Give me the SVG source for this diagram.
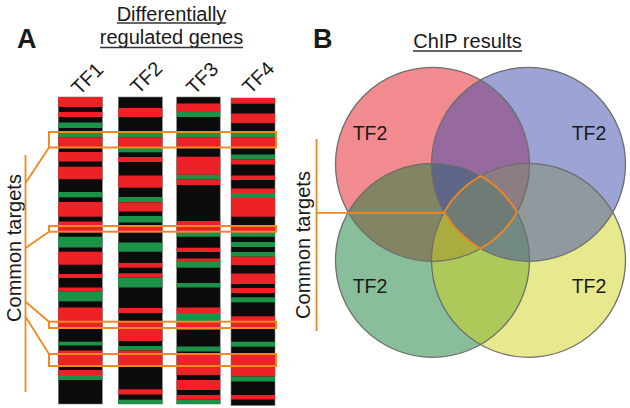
<svg xmlns="http://www.w3.org/2000/svg" width="630" height="408" viewBox="0 0 630 408">
<style>
text{font-family:"Liberation Sans",Arial,sans-serif;fill:#1a1a1a}
.t{font-size:20px}
.lbl{font-size:19.5px}
.cl{font-size:20px}
.big{font-size:27px;font-weight:bold}
.r{fill:#ED2227}
.g{fill:#1B9246}
.k{fill:#0B0B0C;stroke:#7a7a7a;stroke-width:0.6}
.box{fill:none;stroke:#F0891E;stroke-width:2}
.ol{fill:none;stroke:#F0891E;stroke-width:1.8}
.ul{stroke:#333;stroke-width:1.4}
.c{fill-opacity:0.5}
.co{fill:none;stroke:#6e6e6e;stroke-width:1.3}
</style>

<g id="panelA-title">
<text class="big" x="17" y="47.5">A</text>
<text class="t" x="171.5" y="20.5" text-anchor="middle">Differentially</text>
<line class="ul" x1="117" y1="23" x2="226" y2="23"/>
<text class="t" x="171.5" y="44" text-anchor="middle">regulated genes</text>
<line class="ul" x1="100" y1="47.5" x2="243" y2="47.5"/>
</g>

<g id="col-labels">
<text class="cl" text-anchor="middle" transform="translate(92,83.5) rotate(-45)">TF1</text>
<text class="cl" text-anchor="middle" transform="translate(151,82.5) rotate(-45)">TF2</text>
<text class="cl" text-anchor="middle" transform="translate(207,83) rotate(-45)">TF3</text>
<text class="cl" text-anchor="middle" transform="translate(263,82.5) rotate(-45)">TF4</text>
</g>

<g id="TF1">
<rect class="k" x="58.3" y="97" width="44" height="307"/>
<rect class="r" x="58.3" y="97" width="44" height="10"/>
<rect class="r" x="58.3" y="112" width="44" height="5"/>
<rect class="g" x="58.3" y="122.5" width="44" height="5.5"/>
<rect class="g" x="58.3" y="132.7" width="44" height="4.6"/>
<rect class="r" x="58.3" y="137.3" width="44" height="10"/>
<rect class="r" x="58.3" y="152" width="44" height="9.5"/>
<rect class="r" x="58.3" y="166.7" width="44" height="12.5"/>
<rect class="g" x="58.3" y="192" width="44" height="5.3"/>
<rect class="r" x="58.3" y="202" width="44" height="14.7"/>
<rect class="r" x="58.3" y="221.5" width="44" height="10.2"/>
<rect class="g" x="58.3" y="236.7" width="44" height="10.8"/>
<rect class="r" x="58.3" y="251.7" width="44" height="13"/>
<rect class="r" x="58.3" y="274" width="44" height="4"/>
<rect class="r" x="58.3" y="287.5" width="44" height="3.8"/>
<rect class="g" x="58.3" y="291.3" width="44" height="10"/>
<rect class="r" x="58.3" y="307.5" width="44" height="20.5"/>
<rect class="g" x="58.3" y="341.7" width="44" height="3.8"/>
<rect class="r" x="58.3" y="350.5" width="44" height="16.2"/>
<rect class="r" x="58.3" y="370" width="44" height="5"/>
<rect class="g" x="58.3" y="375" width="44" height="5"/>
</g>

<g id="TF2">
<rect class="k" x="118.3" y="97" width="44" height="307"/>
<rect class="r" x="118.3" y="108" width="44" height="9"/>
<rect class="g" x="118.3" y="132.7" width="44" height="4.6"/>
<rect class="r" x="118.3" y="137.3" width="44" height="10.4"/>
<rect class="g" x="118.3" y="147.7" width="44" height="4.6"/>
<rect class="r" x="118.3" y="157" width="44" height="5"/>
<rect class="r" x="118.3" y="175.5" width="44" height="12.2"/>
<rect class="g" x="118.3" y="197" width="44" height="5.3"/>
<rect class="r" x="118.3" y="202.3" width="44" height="9.2"/>
<rect class="g" x="118.3" y="216" width="44" height="6.5"/>
<rect class="r" x="118.3" y="226" width="44" height="5.7"/>
<rect class="g" x="118.3" y="242.5" width="44" height="9.2"/>
<rect class="r" x="118.3" y="263" width="44" height="4.7"/>
<rect class="r" x="118.3" y="273.3" width="44" height="4.4"/>
<rect class="g" x="118.3" y="277.7" width="44" height="9.8"/>
<rect class="r" x="118.3" y="308" width="44" height="5"/>
<rect class="r" x="118.3" y="321.5" width="44" height="19.5"/>
<rect class="g" x="118.3" y="346" width="44" height="4.5"/>
<rect class="r" x="118.3" y="350.5" width="44" height="16.2"/>
<rect class="r" x="118.3" y="389.3" width="44" height="5.2"/>
<rect class="g" x="118.3" y="399.7" width="44" height="4.3"/>
</g>

<g id="TF3">
<rect class="k" x="176.7" y="97" width="43.5" height="307"/>
<rect class="r" x="176.7" y="103.5" width="43.5" height="8.5"/>
<rect class="g" x="176.7" y="112" width="43.5" height="5"/>
<rect class="g" x="176.7" y="132.7" width="43.5" height="4.6"/>
<rect class="r" x="176.7" y="137.3" width="43.5" height="10"/>
<rect class="r" x="176.7" y="156.7" width="43.5" height="18.1"/>
<rect class="g" x="176.7" y="174.8" width="43.5" height="4.7"/>
<rect class="r" x="176.7" y="179.5" width="43.5" height="5.5"/>
<rect class="r" x="176.7" y="221" width="43.5" height="10.7"/>
<rect class="g" x="176.7" y="231.7" width="43.5" height="5"/>
<rect class="r" x="176.7" y="247.7" width="43.5" height="4.3"/>
<rect class="r" x="176.7" y="258.5" width="43.5" height="3.5"/>
<rect class="g" x="176.7" y="262" width="43.5" height="5.7"/>
<rect class="g" x="176.7" y="283" width="43.5" height="4.5"/>
<rect class="r" x="176.7" y="307.5" width="43.5" height="5.5"/>
<rect class="g" x="176.7" y="313" width="43.5" height="8.5"/>
<rect class="r" x="176.7" y="321.5" width="43.5" height="8.5"/>
<rect class="g" x="176.7" y="346.5" width="43.5" height="5"/>
<rect class="r" x="176.7" y="354" width="43.5" height="21"/>
<rect class="r" x="176.7" y="380" width="43.5" height="10"/>
<rect class="r" x="176.7" y="395" width="43.5" height="4.7"/>
<rect class="g" x="176.7" y="399.7" width="43.5" height="4.3"/>
</g>

<g id="TF4">
<rect class="k" x="231" y="98" width="44" height="307.5"/>
<rect class="r" x="231" y="98" width="44" height="5.7"/>
<rect class="r" x="231" y="113.5" width="44" height="9.7"/>
<rect class="g" x="231" y="132.7" width="44" height="4.6"/>
<rect class="r" x="231" y="137.3" width="44" height="10.2"/>
<rect class="g" x="231" y="154.5" width="44" height="5"/>
<rect class="r" x="231" y="159.5" width="44" height="5"/>
<rect class="r" x="231" y="175.5" width="44" height="4.5"/>
<rect class="r" x="231" y="188.5" width="44" height="4.5"/>
<rect class="g" x="231" y="193" width="44" height="5"/>
<rect class="r" x="231" y="198" width="44" height="18.7"/>
<rect class="r" x="231" y="225.5" width="44" height="6.2"/>
<rect class="g" x="231" y="231.7" width="44" height="5"/>
<rect class="g" x="231" y="242" width="44" height="5"/>
<rect class="g" x="231" y="252" width="44" height="4.7"/>
<rect class="r" x="231" y="256.7" width="44" height="8.3"/>
<rect class="r" x="231" y="273.5" width="44" height="10.5"/>
<rect class="r" x="231" y="288" width="44" height="5"/>
<rect class="g" x="231" y="297.3" width="44" height="5"/>
<rect class="r" x="231" y="316.3" width="44" height="11.7"/>
<rect class="g" x="231" y="341.7" width="44" height="5"/>
<rect class="r" x="231" y="353" width="44" height="23.5"/>
<rect class="g" x="231" y="376.5" width="44" height="5"/>
<rect class="r" x="231" y="395" width="44" height="4.5"/>
</g>

<g id="common-targets-A">
<text class="t" text-anchor="middle" transform="translate(21,248) rotate(-90)">Common targets</text>
</g>

<g id="connectors-A">
<rect class="box" x="49" y="132" width="227" height="15.5"/>
<rect class="box" x="49" y="226" width="227" height="5.7"/>
<rect class="box" x="49" y="321.7" width="227" height="6.3"/>
<rect class="box" x="49" y="354" width="227" height="12"/>
<line class="ol" x1="25.5" y1="155" x2="25.5" y2="392"/>
<line class="ol" x1="25.5" y1="183" x2="49" y2="147.5"/>
<line class="ol" x1="25.5" y1="248" x2="49" y2="231.7"/>
<line class="ol" x1="25.5" y1="301.7" x2="49" y2="321.7"/>
<line class="ol" x1="25.5" y1="316.7" x2="49" y2="354"/>
</g>

<g id="panelB-title">
<text class="big" x="313" y="48">B</text>
<text class="t" x="467.5" y="48" text-anchor="middle">ChIP results</text>
<line class="ul" x1="413" y1="51" x2="522" y2="51"/>
</g>

<g id="venn">
<g id="set-red"><circle class="c" cx="432.5" cy="164.3" r="97" fill="#E5171F"/></g>
<g id="set-green"><circle class="c" cx="432.5" cy="260.3" r="97" fill="#137D37"/></g>
<g id="set-yellow"><circle class="c" cx="528.5" cy="260.3" r="97" fill="#CFD319"/></g>
<g id="set-blue"><circle class="c" cx="528.5" cy="164.3" r="97" fill="#3A4AAD"/></g>
<circle class="co" cx="432.5" cy="164.3" r="97"/>
<circle class="co" cx="528.5" cy="164.3" r="97"/>
<circle class="co" cx="432.5" cy="260.3" r="97"/>
<circle class="co" cx="528.5" cy="260.3" r="97"/>
<text class="lbl" x="370" y="140" text-anchor="middle">TF2</text>
<text class="lbl" x="589" y="140" text-anchor="middle">TF2</text>
<text class="lbl" x="370" y="293" text-anchor="middle">TF2</text>
<text class="lbl" x="589" y="293" text-anchor="middle">TF2</text>
</g>

<g id="common-targets-B">
<text class="t" text-anchor="middle" transform="translate(310,245) rotate(-90)">Common targets</text>
</g>

<g id="connectors-B">
<path class="ol" d="M480.5,176 A97,97 0 0 1 517,212.3 A97,97 0 0 1 480.5,248.6 A97,97 0 0 1 444,212.3 A97,97 0 0 1 480.5,176 Z"/>
<line class="ol" x1="316.5" y1="139" x2="316.5" y2="331"/>
<line class="ol" x1="316.5" y1="212.8" x2="444" y2="212.8"/>
</g>
</svg>
